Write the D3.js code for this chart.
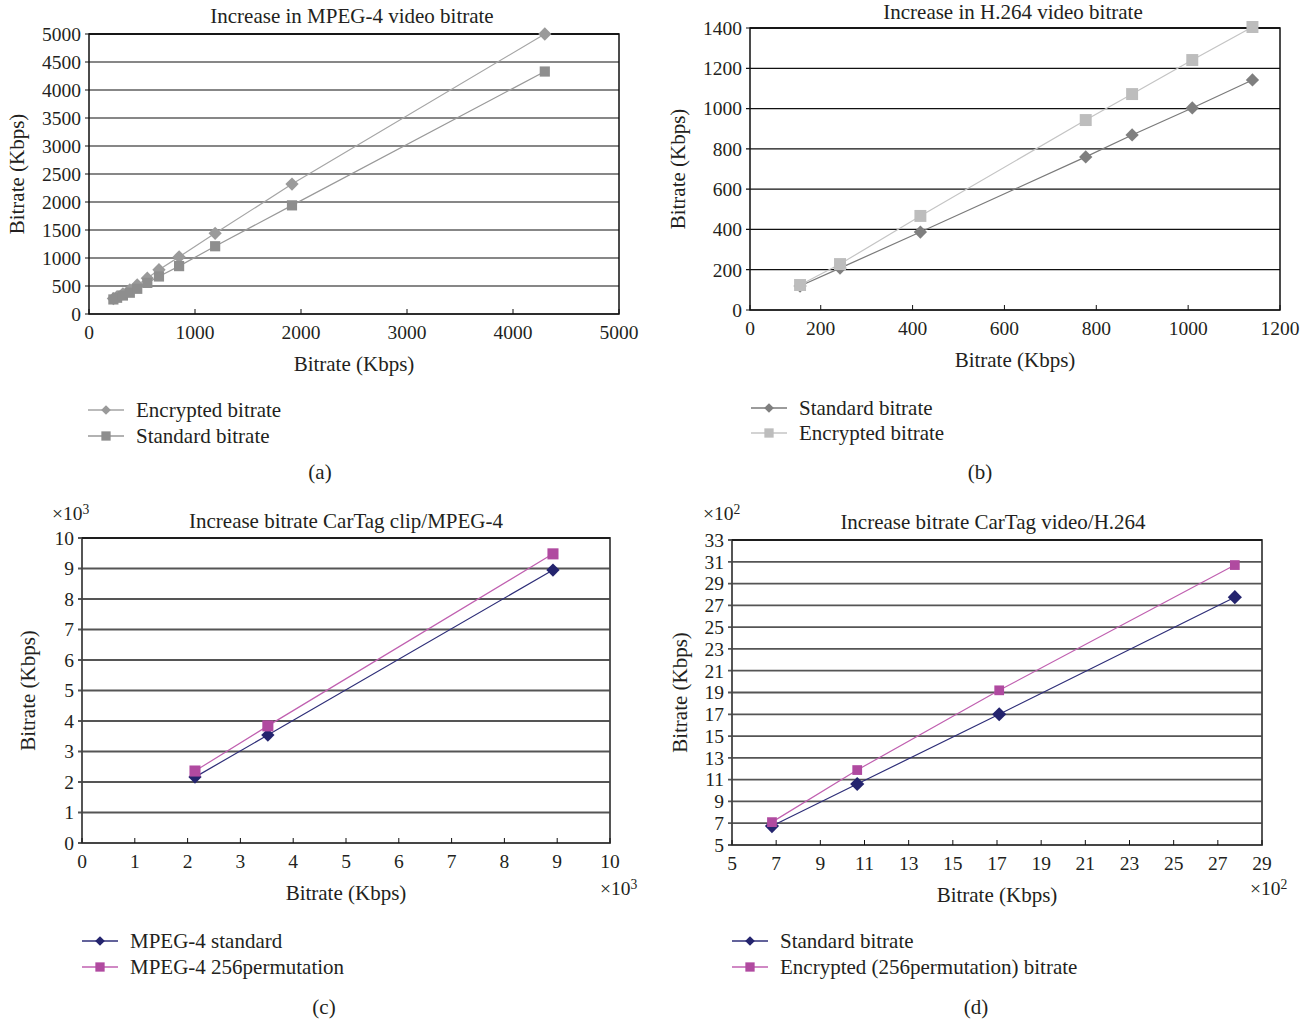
<!DOCTYPE html>
<html><head><meta charset="utf-8">
<script src="https://cdn.jsdelivr.net/npm/d3@7"></script>
<style>body{margin:0;background:#fff}svg{display:block}text{font-family:"Liberation Serif","DejaVu Serif",serif;fill:#231f20}</style>
</head><body>
<script>
// ---- Panel (a): MPEG-4 ----
const aX = [230, 265, 320, 385, 455, 550, 660, 850, 1190, 1915, 4300];
const aEncrypted = [275, 310, 360, 430, 520, 640, 790, 1020, 1440, 2320, 5000];
const aStandard = [260, 290, 330, 380, 450, 555, 670, 855, 1210, 1940, 4330];
const aXTicks = [0, 1000, 2000, 3000, 4000, 5000];
const aYTicks = [0, 500, 1000, 1500, 2000, 2500, 3000, 3500, 4000, 4500, 5000];
// ---- Panel (b): H.264 ----
const bX = [155, 242, 417, 777, 878, 1009, 1140];
const bStandard = [119, 208, 387, 760, 869, 1003, 1142];
const bEncrypted = [124, 228, 467, 943, 1072, 1241, 1405];
const bXTicks = [0, 200, 400, 600, 800, 1000, 1200];
const bYTicks = [0, 200, 400, 600, 800, 1000, 1200, 1400];
// ---- Panel (c): CarTag clip / MPEG-4 (x10^3) ----
const cX = [2.14, 3.52, 8.92];
const cStandard = [2.16, 3.54, 8.95];
const cPermutation = [2.36, 3.84, 9.48];
const cTicks = [0, 1, 2, 3, 4, 5, 6, 7, 8, 9, 10];
// ---- Panel (d): CarTag video / H.264 (x10^2) ----
const dX = [6.81, 10.67, 17.1, 27.77];
const dStandard = [6.74, 10.6, 17.0, 27.75];
const dEncrypted = [7.1, 11.88, 19.2, 30.7];
const dXTicks = [5, 7, 9, 11, 13, 15, 17, 19, 21, 23, 25, 27, 29];
const dYTicks = [5, 7, 9, 11, 13, 15, 17, 19, 21, 23, 25, 27, 29, 31, 33];

const svg = d3.select("body").append("svg").attr("width", 1307).attr("height", 1020);

function panel(o) {
  const g = svg.append("g");
  const x = d3.scaleLinear().domain(o.xDomain).range([o.left, o.right]);
  const y = d3.scaleLinear().domain(o.yDomain).range([o.bottom, o.top]);
  const xp = v => x(Math.max(v, o.xDomain[0]));
  g.selectAll(".grid").data(o.yTicks).enter().append("line")
    .attr("x1", o.left - 4).attr("x2", o.right)
    .attr("y1", d => y(d)).attr("y2", d => y(d))
    .attr("stroke", o.gridColor).attr("stroke-width", o.gridWidth);
  g.append("rect").attr("x", o.left).attr("y", o.top)
    .attr("width", o.right - o.left).attr("height", o.bottom - o.top)
    .attr("fill", "none").attr("stroke", o.frameColor).attr("stroke-width", o.frameWidth);
  g.append("line").attr("x1", o.left).attr("x2", o.right).attr("y1", o.top).attr("y2", o.top)
    .attr("stroke", "#111").attr("stroke-width", 1.5);
  g.selectAll(".xt").data(o.xTicks).enter().append("line")
    .attr("x1", d => xp(d)).attr("x2", d => xp(d))
    .attr("y1", o.bottom).attr("y2", o.bottom - 5)
    .attr("stroke", "#111").attr("stroke-width", 1);
  g.selectAll(".xl").data(o.xTicks).enter().append("text")
    .attr("x", d => xp(d)).attr("y", o.bottom + 18).attr("dy", "0.35em")
    .attr("text-anchor", "middle").attr("font-size", o.tfs).text(d => d);
  g.selectAll(".yl").data(o.yTicks).enter().append("text")
    .attr("x", o.left - 8).attr("y", d => y(d)).attr("dy", "0.35em")
    .attr("text-anchor", "end").attr("font-size", o.tfs).text(d => d);
  g.append("text").attr("x", o.titleX).attr("y", o.titleY).attr("dy", "0.35em")
    .attr("text-anchor", "middle").attr("font-size", o.fs).text(o.title);
  g.append("text").attr("x", (o.left + o.right) / 2).attr("y", o.bottom + o.xLabelOff).attr("dy", "0.35em")
    .attr("text-anchor", "middle").attr("font-size", o.fs).text("Bitrate (Kbps)");
  g.append("text").attr("transform", `translate(${o.yLabelX},${(o.top + o.bottom) / 2}) rotate(-90)`)
    .attr("dy", "0.35em").attr("text-anchor", "middle").attr("font-size", o.fs).text("Bitrate (Kbps)");
  if (o.mult) {
    [o.multTop, o.multBot].forEach(p => {
      const m = g.append("text").attr("x", p[0]).attr("y", p[1]).attr("dy", "0.35em").attr("font-size", o.tfs);
      m.append("tspan").text("\u00d710");
      m.append("tspan").attr("dy", "-0.45em").attr("font-size", o.tfs * 0.7).text(o.mult);
    });
  }
  g.append("text").attr("x", o.letter[1]).attr("y", o.letter[2]).attr("dy", "0.35em")
    .attr("text-anchor", "middle").attr("font-size", o.fs).text(o.letter[0]);

  const line = d3.line().x(d => x(d[0])).y(d => y(d[1]));
  const sym = s => s.shape === "diamond" ? d3.symbol(d3.symbolDiamond2, s.size * s.size / 2)() : d3.symbol(d3.symbolSquare2, s.size * s.size)();
  o.series.forEach(s => {
    const pts = o.xs.map((v, i) => [v, s.values[i]]);
    g.append("path").attr("d", line(pts)).attr("fill", "none").attr("stroke", s.line).attr("stroke-width", 1.2);
  });
  o.series.forEach(s => {
    const pts = o.xs.map((v, i) => [v, s.values[i]]);
    g.selectAll(null).data(pts).enter().append("path")
      .attr("transform", d => `translate(${x(d[0])},${y(d[1])})`)
      .attr("d", sym(s)).attr("fill", s.color);
  });
  const lg = g.append("g");
  o.legendOrder.forEach((s, i) => {
    const yy = o.legend.y + i * o.legend.dy;
    lg.append("line").attr("x1", o.legend.x).attr("x2", o.legend.x + 36)
      .attr("y1", yy).attr("y2", yy).attr("stroke", s.line).attr("stroke-width", 1.3);
    lg.append("path").attr("transform", `translate(${o.legend.x + 18},${yy})`)
      .attr("d", s.shape === "diamond" ? d3.symbol(d3.symbolDiamond2, 60)() : d3.symbol(d3.symbolSquare2, 110)())
      .attr("fill", s.color);
    lg.append("text").attr("x", o.legend.x + 48).attr("y", yy).attr("dy", "0.35em")
      .attr("font-size", o.fs).text(s.name);
  });
}

const aEnc = {name: "Encrypted bitrate", values: aEncrypted, color: "#9a9a9a", line: "#a5a5a5", shape: "diamond", size: 15};
const aStd = {name: "Standard bitrate", values: aStandard, color: "#8e8e8e", line: "#999", shape: "square", size: 11.5};
panel({left: 89, right: 619, top: 34, bottom: 314, xDomain: [0, 5000], yDomain: [0, 5000],
  xTicks: aXTicks, yTicks: aYTicks, xs: aX, series: [aEnc, aStd], legendOrder: [aEnc, aStd],
  gridColor: "#111", gridWidth: 1.2, frameColor: "#111", frameWidth: 1.5, fs: 21, tfs: 19.5,
  title: "Increase in MPEG-4 video bitrate", titleX: 352, titleY: 16, xLabelOff: 50, yLabelX: 17,
  legend: {x: 88, y: 410, dy: 26}, letter: ["(a)", 320, 472]});

const bStd = {name: "Standard bitrate", values: bStandard, color: "#7f7f7f", line: "#7a7a7a", shape: "diamond", size: 15};
const bEnc = {name: "Encrypted bitrate", values: bEncrypted, color: "#bdbdbd", line: "#c4c4c4", shape: "square", size: 13.5};
panel({left: 750, right: 1280, top: 28, bottom: 310, xDomain: [46, 1200], yDomain: [0, 1400],
  xTicks: bXTicks, yTicks: bYTicks, xs: bX, series: [bStd, bEnc], legendOrder: [bStd, bEnc],
  gridColor: "#111", gridWidth: 1.2, frameColor: "#111", frameWidth: 1.5, fs: 21, tfs: 19.5,
  title: "Increase in H.264 video bitrate", titleX: 1013, titleY: 12, xLabelOff: 50, yLabelX: 678,
  legend: {x: 751, y: 408, dy: 25}, letter: ["(b)", 980, 472]});

const cStd = {name: "MPEG-4 standard", values: cStandard, color: "#24246e", line: "#2e2e78", shape: "diamond", size: 15};
const cPerm = {name: "MPEG-4 256permutation", values: cPermutation, color: "#b04aa0", line: "#c060b0", shape: "square", size: 12.5};
panel({left: 82, right: 610, top: 538, bottom: 843, xDomain: [0, 10], yDomain: [0, 10],
  xTicks: cTicks, yTicks: cTicks, xs: cX, series: [cStd, cPerm], legendOrder: [cStd, cPerm],
  gridColor: "#555", gridWidth: 1.8, frameColor: "#444", frameWidth: 1.8, fs: 21, tfs: 19.5,
  title: "Increase bitrate CarTag clip/MPEG-4", titleX: 346, titleY: 521, xLabelOff: 50, yLabelX: 28,
  mult: "3", multTop: [52, 513], multBot: [600, 888],
  legend: {x: 82, y: 941, dy: 26}, letter: ["(c)", 324, 1007]});

const dStd = {name: "Standard bitrate", values: dStandard, color: "#24246e", line: "#2e2e78", shape: "diamond", size: 16};
const dEnc = {name: "Encrypted (256permutation) bitrate", values: dEncrypted, color: "#b04aa0", line: "#c060b0", shape: "square", size: 11};
panel({left: 732, right: 1262, top: 540, bottom: 845, xDomain: [5, 29], yDomain: [5, 33],
  xTicks: dXTicks, yTicks: dYTicks, xs: dX, series: [dStd, dEnc], legendOrder: [dStd, dEnc],
  gridColor: "#555", gridWidth: 1.8, frameColor: "#444", frameWidth: 1.8, fs: 21, tfs: 19.5,
  title: "Increase bitrate CarTag video/H.264", titleX: 993, titleY: 522, xLabelOff: 50, yLabelX: 680,
  mult: "2", multTop: [703, 513], multBot: [1250, 888],
  legend: {x: 732, y: 941, dy: 26}, letter: ["(d)", 976, 1007]});
</script>
</body></html>
